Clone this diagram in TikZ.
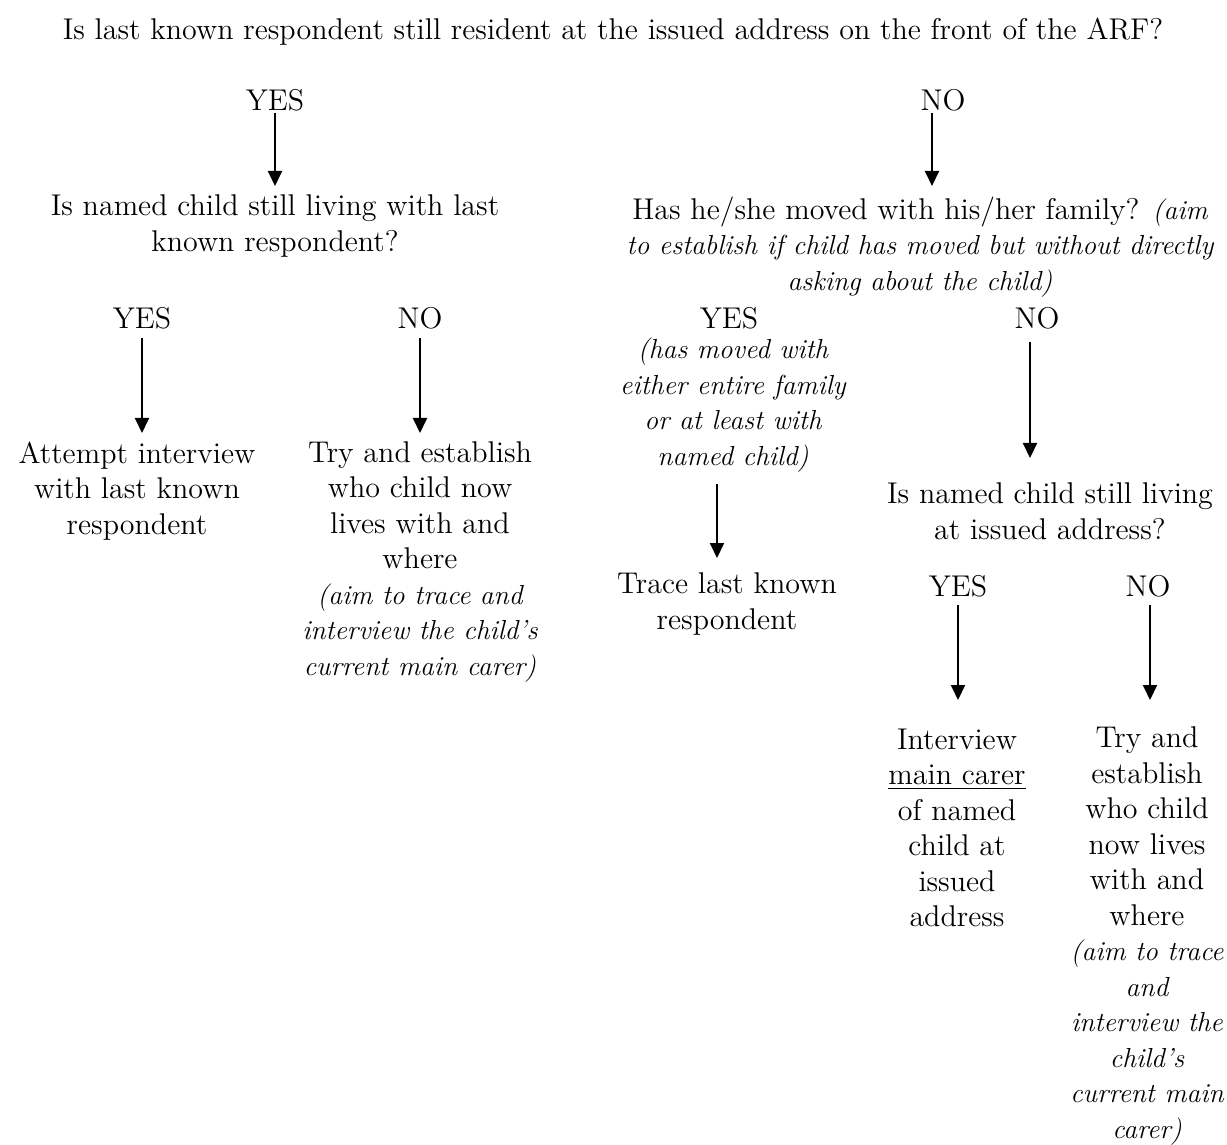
\documentclass[tikz,border=0pt]{standalone}
\usetikzlibrary{arrows.meta}
\newcommand{\itx}[1]{{\fontsize{11}{14.2}\selectfont\itshape #1}}
\begin{document}
\begin{tikzpicture}[x=0.4pt,y=-0.4pt,
  txt/.style={inner sep=0pt,align=center,font=\fontsize{12}{14.2}\selectfont},
  arr/.style={line width=0.8pt,-{Triangle[width=5.6pt,length=6pt]}}]
\useasboundingbox (0,0) rectangle (1227,1145);
\node[txt] (title) at (613,32) {Is last known respondent still resident at the issued address on the front of the ARF?};
\node[txt] (yes1) at (275,100) {YES};
\node[txt] (no1) at (943,100) {NO};
\node[txt] (q1) at (275,226) {Is named child still living with last\\known respondent?};
\node[txt] (q2) at (920,247) {Has he/she moved with his/her family? \itx{(aim}\\\itx{to establish if child has moved but without directly}\\\itx{asking about the child)}};
\node[txt] (yes2) at (142,318) {YES};
\node[txt] (no2) at (420,318) {NO};
\node[txt] (yes3) at (729,318) {YES};
\node[txt] (no3) at (1037,318) {NO};
\node[txt] (yes3n) at (733,405) {\itx{(has moved with}\\\itx{either entire family}\\\itx{or at least with}\\\itx{named child)}};
\node[txt] (att) at (137,491) {Attempt interview\\with last known\\respondent};
\node[txt] (try1) at (420,562) {Try and establish\\who child now\\lives with and\\where\\\itx{(aim to trace and}\\\itx{interview the child's}\\\itx{current main carer)}};
\node[txt] (trace) at (727,604) {Trace last known\\respondent};
\node[txt] (q3) at (1050,511) {Is named child still living\\at issued address?};
\node[txt] (yes4) at (958,586) {YES};
\node[txt] (no4) at (1148,586) {NO};
\node[txt] (int) at (957,828) {Interview\\\underline{main carer}\\of named\\child at\\issued\\address};
\node[txt] (try2) at (1147,936) {Try and\\establish\\who child\\now lives\\with and\\where\\\itx{(aim to trace}\\\itx{and}\\\itx{interview the}\\\itx{child's}\\\itx{current main}\\\itx{carer)}};
\coordinate (a1s) at (275,113); \coordinate (a1e) at (275,186);
\coordinate (a2s) at (932,113); \coordinate (a2e) at (932,186);
\coordinate (a3s) at (142,338); \coordinate (a3e) at (142,433);
\coordinate (a4s) at (420,338); \coordinate (a4e) at (420,433);
\coordinate (a5s) at (717,484); \coordinate (a5e) at (717,558);
\coordinate (a6s) at (1030,342); \coordinate (a6e) at (1030,458);
\coordinate (a7s) at (958,605); \coordinate (a7e) at (958,700);
\coordinate (a8s) at (1150,605); \coordinate (a8e) at (1150,700);
\draw[arr] (a1s) -- (a1e);
\draw[arr] (a2s) -- (a2e);
\draw[arr] (a3s) -- (a3e);
\draw[arr] (a4s) -- (a4e);
\draw[arr] (a5s) -- (a5e);
\draw[arr] (a6s) -- (a6e);
\draw[arr] (a7s) -- (a7e);
\draw[arr] (a8s) -- (a8e);
\end{tikzpicture}
\end{document}
